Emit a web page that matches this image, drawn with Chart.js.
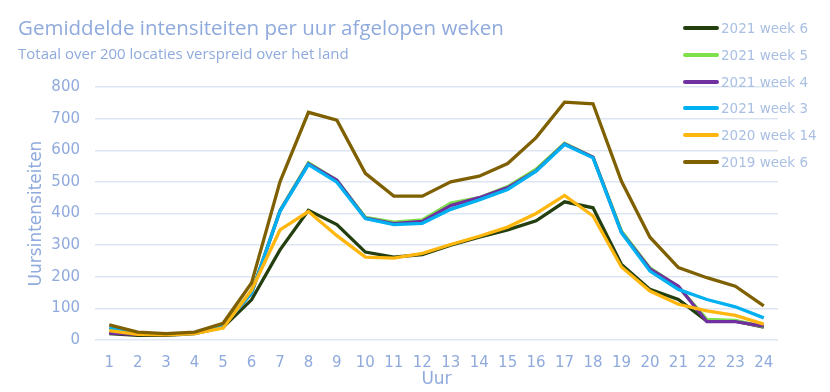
<!DOCTYPE html>
<html>
<head>
<meta charset="utf-8">
<script src="https://cdn.jsdelivr.net/npm/chart.js@4"></script>
<style>
  body { margin: 0; background: #fff; }
  #wrap { position: relative; width: 830px; height: 392px; }
  #title { position: absolute; left: 18px; top: 13px; font: 20.5px "Open Sans", sans-serif; color: #8faadc; white-space: nowrap; }
  #sub { position: absolute; left: 18px; top: 43px; font: 15px "Open Sans", sans-serif; color: #8faadc; white-space: nowrap; }
  #legend { position: absolute; left: 683px; top: 15px; font: 13.5px "DejaVu Sans", sans-serif; color: #a9bfe3; }
  #legend div { height: 26.7px; display: flex; align-items: center; }
  #legend span.sw { display: inline-block; width: 36px; height: 4px; border-radius: 2px; margin-right: 2px; }
</style>
</head>
<body>
<div id="wrap">
  <canvas id="c" width="830" height="392"></canvas>
  <div id="title">Gemiddelde intensiteiten per uur afgelopen weken</div>
  <div id="sub">Totaal over 200 locaties verspreid over het land</div>
  <div id="legend"></div>
</div>
<script>
const hours = ["1","2","3","4","5","6","7","8","9","10","11","12","13","14","15","16","17","18","19","20","21","22","23","24"];
const seriesNames = ["2021 week 6", "2021 week 5", "2021 week 4", "2021 week 3", "2020 week 14", "2019 week 6"];
const seriesColors = ["#233f0f", "#7ee04a", "#7030a0", "#00b0f0", "#ffb70f", "#7f6000"];

const w6_2021 = [20, 15, 15, 20, 40, 127, 285, 410, 365, 278, 262, 270, 300, 325, 348, 377, 437, 418, 239, 160, 128, 60, 60, 41];
const w5_2021 = [30, 20, 18, 22, 45, 150, 410, 560, 505, 388, 373, 380, 433, 450, 485, 540, 622, 578, 345, 228, 168, 65, 62, 42];
const w4_2021 = [22, 18, 17, 22, 45, 148, 408, 557, 505, 385, 368, 375, 425, 450, 482, 535, 620, 578, 340, 225, 170, 58, 58, 44];
const w3_2021 = [38, 20, 18, 22, 45, 148, 407, 555, 499, 384, 365, 369, 413, 443, 476, 534, 618, 576, 339, 218, 160, 128, 105, 70];
const w14_2020 = [30, 18, 16, 20, 38, 158, 348, 406, 330, 262, 259, 274, 302, 328, 357, 400, 457, 392, 231, 155, 113, 92, 78, 50];
const w6_2019 = [48, 25, 20, 25, 53, 180, 500, 720, 695, 527, 455, 455, 500, 518, 558, 640, 752, 747, 502, 325, 229, 197, 170, 108];
const allSeries = [w6_2021, w5_2021, w4_2021, w3_2021, w14_2020, w6_2019];

const yTicks = [0, 100, 200, 300, 400, 500, 600, 700, 800];

const axisColor = "#8faadc";
const gridColor = "#dde5f3";

const datasets = allSeries.map((vals, i) => ({
  label: seriesNames[i],
  data: vals,
  borderColor: seriesColors[i],
  backgroundColor: seriesColors[i],
  borderWidth: 3.3,
  pointRadius: 0,
  tension: 0,
  order: allSeries.length - i,
}));

const legend = document.getElementById("legend");
legend.innerHTML = seriesNames
  .map((n, i) => `<div><span class="sw" style="background:${seriesColors[i]}"></span>${n}</div>`)
  .join("");

new Chart(document.getElementById("c"), {
  type: "line",
  data: { labels: hours, datasets },
  options: {
    responsive: false,
    animation: false,
    layout: { padding: { left: 0, top: 87, right: 52, bottom: 0 } },
    plugins: { legend: { display: false }, tooltip: { enabled: false } },
    scales: {
      x: {
        offset: true,
        grid: { display: false },
        border: { display: false },
        ticks: { color: axisColor, font: { family: "DejaVu Sans", size: 15 }, padding: 6, maxRotation: 0 },
        title: { display: true, text: "Uur", color: axisColor, font: { family: "DejaVu Sans", size: 17 }, padding: { top: 0, bottom: 2 } },
        afterFit: (s) => { s.height = 52; },
      },
      y: {
        min: 0,
        max: 800,
        afterBuildTicks: (s) => { s.ticks = yTicks.map((v) => ({ value: v })); },
        grid: { color: gridColor, lineWidth: 1.5, drawTicks: false },
        border: { display: false },
        ticks: { color: axisColor, font: { family: "DejaVu Sans", size: 15 }, padding: 15 },
        title: { display: true, text: "Uursintensiteiten", color: axisColor, font: { family: "DejaVu Sans", size: 17 }, padding: { top: 26, bottom: 0 } },
        afterFit: (s) => { s.width = 95; },
      },
    },
  },
});
</script>
</body>
</html>
